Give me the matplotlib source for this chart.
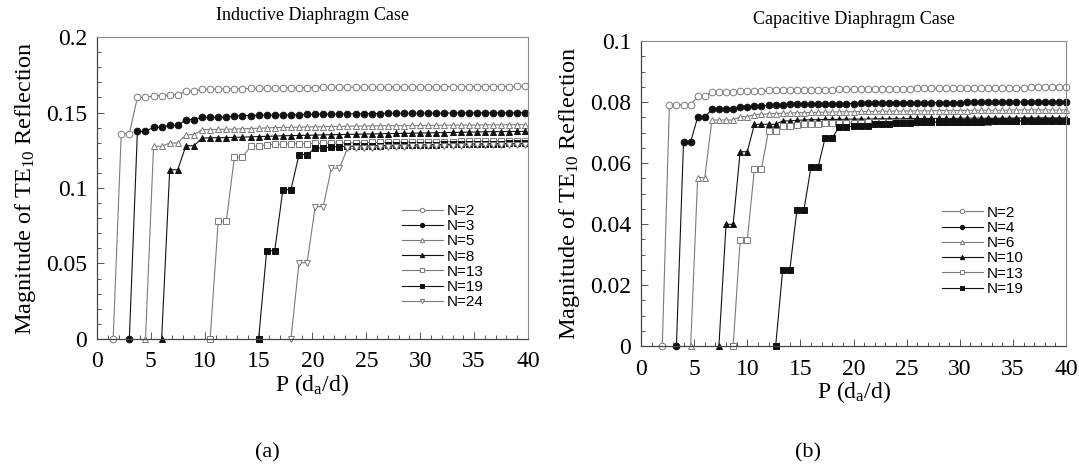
import matplotlib
matplotlib.use("Agg")
import matplotlib.pyplot as plt
from matplotlib.ticker import MultipleLocator, FormatStrFormatter

plt.rcParams['font.family'] = 'Liberation Serif'
plt.rcParams['mathtext.fontset'] = 'custom'
plt.rcParams['mathtext.rm'] = 'Liberation Serif'
plt.rcParams['mathtext.it'] = 'Liberation Serif:italic'

# ---- (a) inductive diaphragm: P grid, step 0.75 ----
P_ind = [1.5, 2.25, 3.0, 3.75, 4.5, 5.25, 6.0, 6.75, 7.5, 8.25,
         9.0, 9.75, 10.5, 11.25, 12.0, 12.75, 13.5, 14.25, 15.0, 15.75,
         16.5, 17.25, 18.0, 18.75, 19.5, 20.25, 21.0, 21.75, 22.5, 23.25,
         24.0, 24.75, 25.5, 26.25, 27.0, 27.75, 28.5, 29.25, 30.0, 30.75,
         31.5, 32.25, 33.0, 33.75, 34.5, 35.25, 36.0, 36.75, 37.5, 38.25,
         39.0, 39.75]

ind_n2 = [0, 0.136, 0.136, 0.160, 0.160, 0.161, 0.1612, 0.1615, 0.1618, 0.164,
          0.1643, 0.1653, 0.1655, 0.1656, 0.1657, 0.1658, 0.1658, 0.1659, 0.1660, 0.1661,
          0.1662, 0.1663, 0.1664, 0.1664, 0.1665, 0.1665, 0.1666, 0.1666, 0.1667, 0.1667,
          0.1667, 0.1668, 0.1668, 0.1668, 0.1669, 0.1669, 0.1669, 0.1670, 0.1670, 0.1670,
          0.1670, 0.1671, 0.1671, 0.1671, 0.1671, 0.1672, 0.1672, 0.1672, 0.1672, 0.1672,
          0.1673, 0.1673]
ind_n3 = [0, 0.1375, 0.1375, 0.1402, 0.1402, 0.1415, 0.1415, 0.1453, 0.1453, 0.1468,
          0.1468, 0.1469, 0.1470, 0.1478, 0.1479, 0.1480, 0.1481, 0.1482, 0.1483, 0.1484,
          0.1485, 0.1486, 0.1487, 0.1488, 0.1489, 0.1490, 0.1490, 0.1491, 0.1492, 0.1492,
          0.1493, 0.1493, 0.1494, 0.1494, 0.1495, 0.1495, 0.1495, 0.1496, 0.1496, 0.1496,
          0.1497, 0.1497, 0.1497, 0.1497, 0.1498, 0.1498, 0.1498, 0.1498, 0.1498, 0.1499]
ind_n5 = [0, 0.1276, 0.1276, 0.1298, 0.1298, 0.1353, 0.1353, 0.1386, 0.1387, 0.1388,
          0.1389, 0.1390, 0.1392, 0.1394, 0.1396, 0.1398, 0.1400, 0.1401, 0.1402, 0.1403,
          0.1404, 0.1405, 0.1406, 0.1407, 0.1408, 0.1409, 0.1410, 0.1410, 0.1411, 0.1412,
          0.1412, 0.1413, 0.1413, 0.1414, 0.1414, 0.1415, 0.1415, 0.1416, 0.1416, 0.1417,
          0.1417, 0.1417, 0.1418, 0.1418, 0.1418, 0.1419, 0.1419, 0.1419]
ind_n8 = [0, 0.1121, 0.1121, 0.1280, 0.1280, 0.1331, 0.1332, 0.1333, 0.1334, 0.1335,
          0.1337, 0.1339, 0.1341, 0.1342, 0.1344, 0.1346, 0.1347, 0.1348, 0.1349, 0.1350,
          0.1352, 0.1353, 0.1354, 0.1355, 0.1356, 0.1357, 0.1358, 0.1359, 0.1360, 0.1361,
          0.1362, 0.1363, 0.1364, 0.1365, 0.1366, 0.1367, 0.1368, 0.1369, 0.1370, 0.1371,
          0.1372, 0.1373, 0.1373, 0.1374, 0.1375, 0.1375]
ind_n13 = [0, 0.0779, 0.0779, 0.1203, 0.1203, 0.1276, 0.1276, 0.1287, 0.1289, 0.1291,
           0.1292, 0.1293, 0.1294, 0.1295, 0.1296, 0.1297, 0.1298, 0.1299, 0.1300, 0.1301,
           0.1302, 0.1302, 0.1303, 0.1304, 0.1304, 0.1305, 0.1305, 0.1306, 0.1306, 0.1307,
           0.1307, 0.1308, 0.1308, 0.1309, 0.1309, 0.1309, 0.1310, 0.1310, 0.1310, 0.1311]
ind_n19 = [0, 0.0585, 0.0585, 0.0989, 0.0989, 0.1221, 0.1221, 0.1265, 0.1265, 0.1272,
           0.1274, 0.1276, 0.1278, 0.1279, 0.1280, 0.1281, 0.1282, 0.1283, 0.1284, 0.1285,
           0.1286, 0.1287, 0.1288, 0.1289, 0.1290, 0.1291, 0.1292, 0.1293, 0.1293, 0.1294,
           0.1294, 0.1295, 0.1295, 0.1296]
ind_n24 = [0, 0.0505, 0.0505, 0.0876, 0.0876, 0.1131, 0.1131, 0.1262, 0.1264, 0.1266,
           0.1268, 0.1270, 0.1272, 0.1273, 0.1274, 0.1275, 0.1276, 0.1277, 0.1278, 0.1279,
           0.1280, 0.1281, 0.1282, 0.1283, 0.1284, 0.1285, 0.1285, 0.1286, 0.1287, 0.1288]

# ---- (b) capacitive diaphragm: P grid, step 2/3 ----
P_cap = [2.0, 2.67, 3.33, 4.0, 4.67, 5.33, 6.0, 6.67, 7.33, 8.0,
         8.67, 9.33, 10.0, 10.67, 11.33, 12.0, 12.67, 13.33, 14.0, 14.67,
         15.33, 16.0, 16.67, 17.33, 18.0, 18.67, 19.33, 20.0, 20.67, 21.33,
         22.0, 22.67, 23.33, 24.0, 24.67, 25.33, 26.0, 26.67, 27.33, 28.0,
         28.67, 29.33, 30.0, 30.67, 31.33, 32.0, 32.67, 33.33, 34.0, 34.67,
         35.33, 36.0, 36.67, 37.33, 38.0, 38.67, 39.33, 40.0]

cap_n2 = [0, 0.0791, 0.0791, 0.0791, 0.0791, 0.0819, 0.0819, 0.0833, 0.0833, 0.0833,
          0.0833, 0.0835, 0.0836, 0.0836, 0.0837, 0.0838, 0.0838, 0.0839, 0.0839, 0.0840,
          0.0840, 0.0840, 0.0841, 0.0841, 0.0841, 0.0842, 0.0842, 0.0842, 0.0843, 0.0843,
          0.0843, 0.0843, 0.0844, 0.0844, 0.0844, 0.0844, 0.0845, 0.0845, 0.0845, 0.0845,
          0.0845, 0.0846, 0.0846, 0.0846, 0.0846, 0.0846, 0.0847, 0.0847, 0.0847, 0.0847,
          0.0847, 0.0847, 0.0848, 0.0848, 0.0848, 0.0848, 0.0848, 0.0848]
cap_n4 = [0, 0.0670, 0.0670, 0.0750, 0.0750, 0.0776, 0.0776, 0.0776, 0.0776, 0.0784,
          0.0784, 0.0786, 0.0788, 0.0789, 0.0790, 0.0791, 0.0792, 0.0792, 0.0793, 0.0793,
          0.0794, 0.0794, 0.0794, 0.0795, 0.0795, 0.0795, 0.0796, 0.0796, 0.0796, 0.0796,
          0.0797, 0.0797, 0.0797, 0.0797, 0.0797, 0.0798, 0.0798, 0.0798, 0.0798, 0.0798,
          0.0798, 0.0799, 0.0799, 0.0799, 0.0799, 0.0799, 0.0799, 0.0799, 0.0800, 0.0800,
          0.0800, 0.0800, 0.0800, 0.0800, 0.0800, 0.0800]
cap_n6 = [0, 0.0552, 0.0552, 0.0741, 0.0741, 0.0741, 0.0741, 0.0752, 0.0752, 0.0759,
          0.0760, 0.0761, 0.0762, 0.0763, 0.0764, 0.0765, 0.0765, 0.0766, 0.0766, 0.0767,
          0.0767, 0.0768, 0.0768, 0.0768, 0.0769, 0.0769, 0.0769, 0.0770, 0.0770, 0.0770,
          0.0770, 0.0771, 0.0771, 0.0771, 0.0771, 0.0772, 0.0772, 0.0772, 0.0772, 0.0772,
          0.0773, 0.0773, 0.0773, 0.0773, 0.0773, 0.0773, 0.0774, 0.0774, 0.0774, 0.0774,
          0.0774, 0.0774, 0.0774, 0.0774]
cap_n10 = [0, 0.0399, 0.0399, 0.0637, 0.0637, 0.0727, 0.0727, 0.0727, 0.0727, 0.0738,
           0.0738, 0.0740, 0.0741, 0.0742, 0.0742, 0.0743, 0.0743, 0.0743, 0.0744, 0.0744,
           0.0744, 0.0744, 0.0745, 0.0745, 0.0745, 0.0745, 0.0745, 0.0746, 0.0746, 0.0746,
           0.0746, 0.0746, 0.0746, 0.0746, 0.0747, 0.0747, 0.0747, 0.0747, 0.0747, 0.0747,
           0.0747, 0.0747, 0.0748, 0.0748, 0.0748, 0.0748, 0.0748, 0.0748, 0.0748, 0.0748]
cap_n13 = [0, 0.0348, 0.0348, 0.0580, 0.0580, 0.0706, 0.0706, 0.0722, 0.0722, 0.0726,
           0.0727, 0.0728, 0.0729, 0.0730, 0.0730, 0.0731, 0.0731, 0.0732, 0.0732, 0.0733,
           0.0733, 0.0733, 0.0734, 0.0734, 0.0734, 0.0734, 0.0735, 0.0735, 0.0735, 0.0735,
           0.0735, 0.0736, 0.0736, 0.0736, 0.0736, 0.0736, 0.0736, 0.0737, 0.0737, 0.0737,
           0.0737, 0.0737, 0.0737, 0.0737, 0.0737, 0.0737, 0.0738, 0.0738]
cap_n19 = [0, 0.0249, 0.0249, 0.0446, 0.0446, 0.0588, 0.0588, 0.0683, 0.0683, 0.0719,
           0.0719, 0.0720, 0.0721, 0.0722, 0.0727, 0.0728, 0.0729, 0.0730, 0.0731, 0.0732,
           0.0733, 0.0733, 0.0734, 0.0734, 0.0735, 0.0735, 0.0735, 0.0736, 0.0736, 0.0736,
           0.0737, 0.0737, 0.0737, 0.0737, 0.0738, 0.0738, 0.0738, 0.0738, 0.0738, 0.0739,
           0.0739, 0.0739]

GRAY = '#7a7a7a'
BLACK = '#111111'

ind_series = [("N=2", ind_n2, 'o', False), ("N=3", ind_n3, 'o', True),
              ("N=5", ind_n5, '^', False), ("N=8", ind_n8, '^', True),
              ("N=13", ind_n13, 's', False), ("N=19", ind_n19, 's', True),
              ("N=24", ind_n24, 'v', False)]
cap_series = [("N=2", cap_n2, 'o', False), ("N=4", cap_n4, 'o', True),
              ("N=6", cap_n6, '^', False), ("N=10", cap_n10, '^', True),
              ("N=13", cap_n13, 's', False), ("N=19", cap_n19, 's', True)]


def draw_panel(ax, grid, series, ymax, ymajor, yminor, title, leg_anchor):
    for label, vals, mk, filled in series:
        x = grid[len(grid) - len(vals):]
        color = BLACK if filled else GRAY
        ax.plot(x, vals, color=color, linewidth=0.8, marker=mk,
                markersize=4.8 if mk != 's' else 4.5,
                markerfacecolor=BLACK if filled else 'white',
                markeredgecolor=color, markeredgewidth=0.7,
                label=label, clip_on=False)
    ax.set_xlim(0, 40)
    ax.set_ylim(0, ymax)
    ax.xaxis.set_major_locator(MultipleLocator(5))
    ax.xaxis.set_minor_locator(MultipleLocator(1))
    ax.yaxis.set_major_locator(MultipleLocator(ymajor))
    ax.yaxis.set_minor_locator(MultipleLocator(yminor))
    ax.yaxis.set_major_formatter(FormatStrFormatter('%g'))
    ax.tick_params(which='both', direction='in', top=False, right=False,
                   color='#555555', labelsize=17, width=0.7)
    ax.tick_params(axis='x', which='major', length=5, pad=9)
    ax.tick_params(axis='y', which='major', length=5, pad=7)
    ax.tick_params(which='minor', length=3)
    for side in ['left', 'bottom']:
        ax.spines[side].set_color('#444444')
        ax.spines[side].set_linewidth(0.9)
    for side in ['top', 'right']:
        ax.spines[side].set_color('#8a8a8a')
        ax.spines[side].set_linewidth(0.8)
    ax.set_title(title, fontsize=13, pad=12)
    ax.set_xlabel("P (d$_{\\rm a}$/d)", fontsize=17, labelpad=0)
    ax.set_ylabel("Magnitude of TE$_{\\rm 10}$ Reflection", fontsize=17.5, labelpad=6)
    ax.legend(loc='upper left', bbox_to_anchor=leg_anchor, bbox_transform=ax.figure.transFigure,
              frameon=False, borderpad=0, borderaxespad=0, handlelength=2.7,
              handletextpad=0.25, labelspacing=0.08, markerscale=0.65,
              prop={'family': 'Liberation Sans', 'size': 11})


fig = plt.figure(figsize=(10.79, 4.72), dpi=100)
ax1 = fig.add_axes([0.0899, 0.2818, 0.3994, 0.6398])
ax2 = fig.add_axes([0.5941, 0.2669, 0.3939, 0.6462])

draw_panel(ax1, P_ind, ind_series, 0.2, 0.05, 0.01,
           "Inductive Diaphragm Case", (0.3723, 0.5680))
draw_panel(ax2, P_cap, cap_series, 0.1, 0.02, 0.005,
           "Capacitive Diaphragm Case", (0.8727, 0.5640))

fig.text(267 / 1079, 1 - 453 / 472, "(a)", fontsize=16, ha='center', va='center')
fig.text(808 / 1079, 1 - 453 / 472, "(b)", fontsize=16, ha='center', va='center')

fig.savefig("out.png", dpi=100)
